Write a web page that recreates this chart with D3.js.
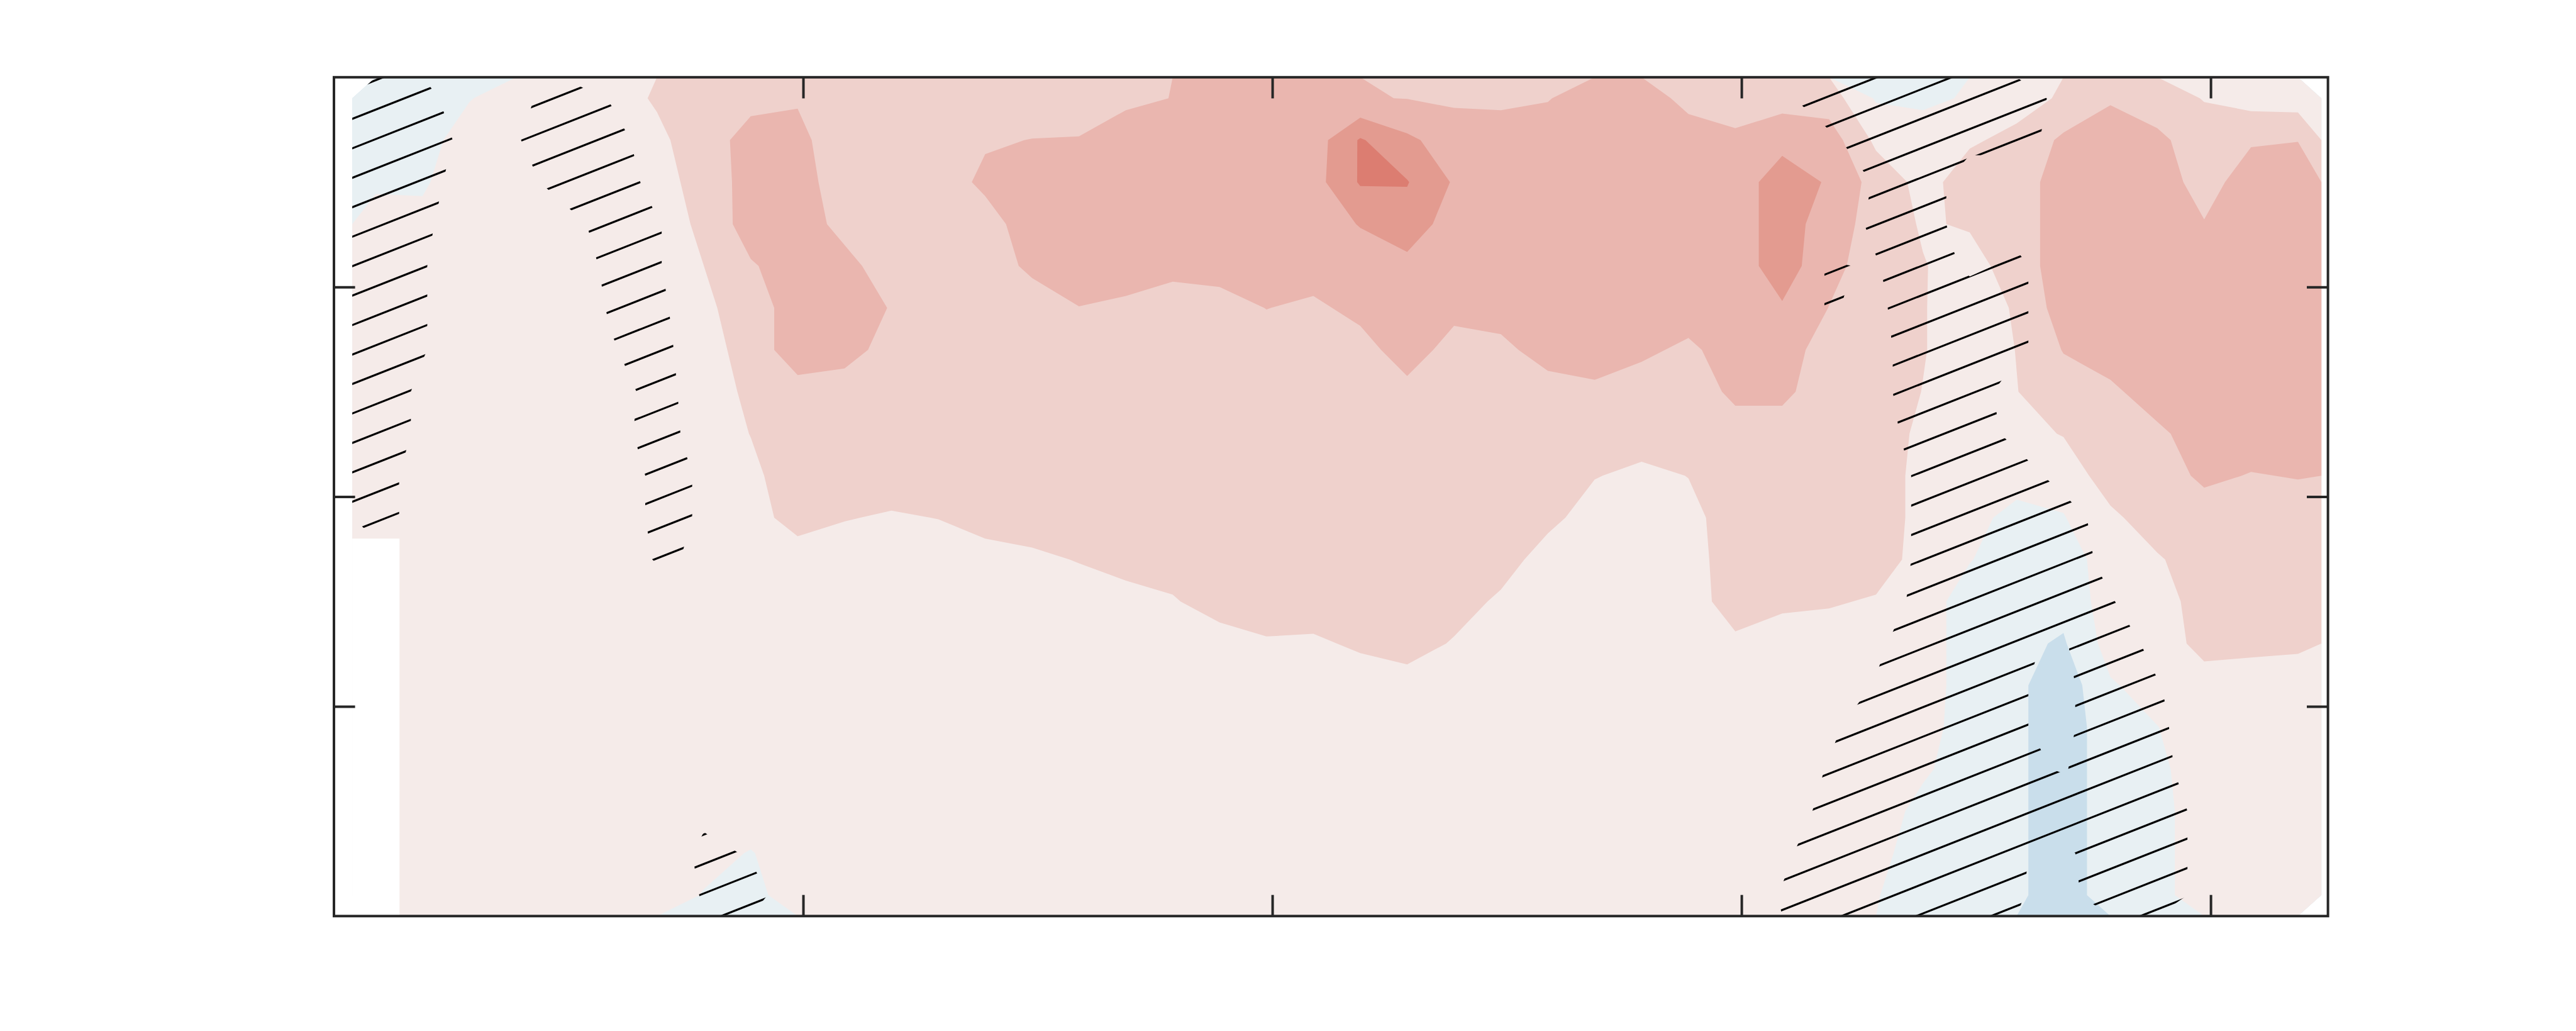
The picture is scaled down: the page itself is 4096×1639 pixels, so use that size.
<!DOCTYPE html>
<html>
<head>
<meta charset="utf-8">
<script src="https://cdn.jsdelivr.net/npm/d3@7"></script>
<style>
  html, body { margin: 0; padding: 0; background: #ffffff; }
  svg { display: block; }
</style>
</head>
<body>
<svg id="chart" width="4096" height="1639"></svg>
<script>
// ---------------- axes ----------------
const xDomain = [0, 42.5];
const yDomain = [0, 4];
const xTicks = [10, 20, 30, 40];
const yTicks = [1, 2, 3];

// ---------------- gridded field (rows: top -> bottom, 42 columns) ----------------
const gridXExtent = [0.39, 42.36];
const gridYExtent = [0, 4];
const bandThresholds = [-10, -1, 0, 1, 2, 3, 4];
const bandColors = ["#c9deeb", "#e8f0f3", "#f5ebe9", "#efd1cc", "#eab6af", "#e39b90", "#dc7d71"];
const N = NaN;

const field = [
  [-0.5,-0.5,-0.05,0.5,0.5,0.6,1.1,1.5,1.7,1.9,  1.5,1.5,1.5,1.5,1.5,1.5,1.8,2.02,2.3,2.5,  2.5,2.05,1.98,1.85,1.8,1.95,2.5,2.5,1.7,1.5,  1.6,1.5,-0.1,-0.2,0.1,0.7,1.1,1.9,1.5,0.95,  0.6,0.5],
  [-0.5,-0.4,0.5,0.5,0.5,0.5,0.8,1.5,2.4,2.3,  1.3,1.5,1.5,1.9,2.02,2.05,2.5,2.5,2.5,2.5,  2.5,4.1,3.2,2.5,2.5,2.5,2.5,2.5,2.5,2.2,  2.7,2.5,0.8,0.5,0.9,1.2,2.2,2.5,2.2,1.5,  1.9,1.98],
  [-0.2,-0.1,0.5,0.5,0.5,0.5,0.6,1.4,2.4,2.4,  1.5,1.5,1.5,2.2,2.5,2.5,2.5,2.5,2.5,2.5,  2.6,4.1,4.05,2.9,2.5,2.5,2.5,2.5,2.5,2.5,  3.5,2.9,1.6,0.7,1.4,1.5,2.5,2.5,2.5,1.6,  2.5,2.5],
  [0.5,0.2,0.5,0.5,0.5,0.5,0.5,1.2,2.5,2.5,  1.7,1.5,1.5,1.6,2.5,2.5,2.5,2.5,2.5,2.5,  2.5,3.05,3.6,2.5,2.5,2.5,2.5,2.5,2.5,2.5,  3.5,2.5,1.6,0.9,1.1,1.5,2.5,2.5,2.5,2.05,  2.5,2.5],
  [0.5,0.5,0.5,0.5,0.5,0.5,0.5,1.0,1.9,2.5,  2.3,1.5,1.5,1.5,2.2,2.5,2.5,2.3,2.4,2.5,  2.5,2.5,2.7,2.5,2.5,2.5,2.5,2.5,2.5,2.5,  3.5,2.3,1.5,1.05,0.6,1.5,2.5,2.5,2.5,2.5,  2.5,2.5],
  [0.5,0.5,0.5,0.5,0.5,0.5,0.5,0.8,1.5,2.5,  2.5,1.95,1.5,1.5,1.5,1.98,1.8,1.5,1.6,2.02,  1.8,2.3,2.5,2.3,2.5,2.5,2.5,2.5,2.5,2.5,  2.9,1.98,1.5,1.05,0.5,1.1,2.5,2.5,2.5,2.5,  2.5,2.5],
  [0.5,0.5,0.5,0.5,0.5,0.5,0.5,0.6,1.4,2.6,  2.4,1.6,1.5,1.5,1.5,1.5,1.5,1.5,1.5,1.5,  1.5,1.6,2.5,1.6,1.7,2.5,2.5,2.2,1.8,2.5,  2.5,1.5,1.5,1.05,0.5,1.02,2.05,2.5,2.5,2.5,  2.5,2.5],
  [0.4,0.5,0.5,0.5,0.5,0.5,0.5,0.5,1.2,1.6,  1.5,1.5,1.5,1.5,1.5,1.5,1.5,1.5,1.5,1.5,  1.5,1.5,1.7,1.5,1.5,1.5,1.8,1.5,1.5,2.2,  2.2,1.5,1.5,0.98,0.5,0.98,1.5,1.8,2.5,2.5,  2.5,2.5],
  [0.3,0.5,0.5,0.5,0.5,0.5,0.5,0.5,1.02,1.5,  1.5,1.5,1.5,1.5,1.5,1.5,1.5,1.5,1.5,1.5,  1.5,1.5,1.5,1.5,1.5,1.5,1.5,1.5,1.5,1.6,  1.6,1.5,1.5,0.8,0.5,0.7,1.05,1.5,1.8,2.5,  2.5,2.5],
  [0.3,0.5,0.5,0.5,0.5,0.5,0.5,0.5,0.8,1.5,  1.5,1.5,1.5,1.5,1.5,1.5,1.5,1.5,1.5,1.5,  1.5,1.5,1.5,1.5,1.5,1.5,1.05,0.75,1.02,1.5,  1.5,1.5,1.5,0.7,0.5,0.4,0.4,1.5,1.5,2.2,  1.95,2.05],
  [0.3,0.5,0.5,0.5,0.5,0.5,0.5,0.5,0.6,1.4,  1.05,0.9,1.02,1.5,1.5,1.5,1.5,1.5,1.5,1.5,  1.5,1.5,1.5,1.5,1.5,1.3,0.5,0.5,0.7,1.5,  1.5,1.5,1.5,0.7,0.3,-0.3,-0.05,0.8,1.5,1.5,  1.5,1.5],
  [N,0.5,0.5,0.5,0.5,0.5,0.5,0.5,0.5,0.5,  0.5,0.5,0.5,0.5,0.8,1.05,1.5,1.5,1.5,1.5,  1.5,1.5,1.5,1.5,1.5,0.5,0.5,0.5,0.6,1.5,  1.5,1.5,1.5,0.6,0.05,-0.6,-0.5,0.5,0.9,1.5,  1.5,1.5],
  [N,0.5,0.5,0.5,0.5,0.5,0.5,0.5,0.5,0.5,  0.5,0.5,0.5,0.5,0.5,0.5,0.5,0.9,1.5,1.5,  1.5,1.5,1.5,1.5,0.8,0.5,0.5,0.5,0.5,1.5,  1.2,1.1,0.9,0.5,-0.5,-0.6,-0.7,0.5,0.5,1.5,  1.5,1.5],
  [N,0.5,0.5,0.5,0.5,0.5,0.5,0.5,0.5,0.5,  0.5,0.5,0.5,0.5,0.5,0.5,0.5,0.5,0.5,0.9,  0.85,1.15,1.5,0.9,0.5,0.5,0.5,0.5,0.5,0.8,  0.5,0.5,0.5,0.5,-0.5,-0.8,-1.1,0.4,0.5,1.3,  1.2,1.15],
  [N,0.5,0.5,0.5,0.5,0.5,0.5,0.5,0.5,0.5,  0.5,0.5,0.5,0.5,0.5,0.5,0.5,0.5,0.5,0.5,  0.5,0.5,0.5,0.5,0.5,0.5,0.5,0.5,0.5,0.5,  0.5,0.5,0.5,0.5,-0.5,-0.8,-1.6,-0.1,0.4,0.6,  0.6,0.55],
  [N,0.5,0.5,0.5,0.5,0.5,0.5,0.5,0.5,0.5,  0.5,0.5,0.5,0.5,0.5,0.5,0.5,0.5,0.5,0.5,  0.5,0.5,0.5,0.5,0.5,0.5,0.5,0.5,0.5,0.5,  0.5,0.5,0.5,0.4,-0.5,-0.8,-1.6,-0.4,-0.02,0.5,  0.5,0.5],
  [N,0.5,0.5,0.5,0.5,0.5,0.5,0.5,0.5,0.5,  0.5,0.5,0.5,0.5,0.5,0.5,0.5,0.5,0.5,0.5,  0.5,0.5,0.5,0.5,0.5,0.5,0.5,0.5,0.5,0.5,  0.5,0.5,0.5,0.15,-0.5,-0.8,-1.6,-0.4,-0.2,0.5,  0.5,0.5],
  [N,0.5,0.5,0.5,0.5,0.5,0.5,0.5,0.5,0.5,  0.5,0.5,0.5,0.5,0.5,0.5,0.5,0.5,0.5,0.5,  0.5,0.5,0.5,0.5,0.5,0.5,0.5,0.5,0.5,0.5,  0.5,0.5,0.5,-0.3,-0.5,-0.8,-1.6,-0.4,-0.3,0.5,  0.5,0.5],
  [N,0.5,0.5,0.5,0.5,0.5,0.5,0.3,-0.05,0.5,  0.5,0.5,0.5,0.5,0.5,0.5,0.5,0.5,0.5,0.5,  0.5,0.5,0.5,0.5,0.5,0.5,0.5,0.5,0.5,0.5,  0.5,0.5,0.3,-0.5,-0.5,-0.8,-1.6,-0.4,-0.3,0.5,  0.5,0.5],
  [N,0.5,0.5,0.5,0.5,0.5,0.5,-0.05,-0.3,0.5,  0.5,0.5,0.5,0.5,0.5,0.5,0.5,0.5,0.5,0.5,  0.5,0.5,0.5,0.5,0.5,0.5,0.5,0.5,0.5,0.5,  0.5,0.5,0.05,-0.5,-0.5,-0.8,-1.6,-0.4,-0.3,0.5,  0.5,0.5]
];

// ---------------- non-significance field (hatched where >= 4.5), digits 0-9 ----------------
const hatchThreshold = 4.5;
const signif = [
  ["9703740000","0000000000","0000000000","3999992000","00"],
  ["9924980000","0000000000","0000000000","0399772000","00"],
  ["9800992000","0000000000","0000000000","0059000000","00"],
  ["9600095000","0000000000","0000000000","0069020000","00"],
  ["9500065000","0000000000","0000000000","0549360000","00"],
  ["9500056000","0000000000","0000000000","0539960000","00"],
  ["9500047000","0000000000","0000000000","0329960000","00"],
  ["9300008000","0000000000","0000000000","0029900000","00"],
  ["9300009000","0000000000","0000000000","0009920000","00"],
  ["9000006400","0000000000","0000000000","0006991000","00"],
  ["9000006400","0000000000","0000000000","0006999000","00"],
  ["0000005400","0000000000","0000000000","0006999200","00"],
  ["0000000000","0000000000","0000000000","0007999500","00"],
  ["0000000000","0000000000","0000000000","0039954920","00"],
  ["0000000000","0000000000","0000000000","0059953950","00"],
  ["0000000000","0000000000","0000000000","0399953960","00"],
  ["0000000000","0000000000","0000000000","0599964970","00"],
  ["0000000300","0000000000","0000000000","0799999992","00"],
  ["0000000640","0000000000","0000000000","3999953992","00"],
  ["0000000570","0000000000","0000000000","5999952992","00"]
].map(parts => parts.join(""));

// ---------------- drawing ----------------
const nx = 42, ny = 20;
const svg = d3.select("#chart");
const x = d3.scaleLinear().domain(xDomain).range([531, 3701.6]);
const y = d3.scaleLinear().domain(yDomain).range([1456.3, 122.8]);

const cw = (gridXExtent[1] - gridXExtent[0]) / nx;
const rh = (gridYExtent[1] - gridYExtent[0]) / ny;
const gx = u => x(gridXExtent[0] + u * cw);
const gy = v => y(gridYExtent[1] - v * rh);
const proj = d3.geoTransform({ point(u, v) { this.stream.point(gx(u), gy(v)); } });
const path = d3.geoPath(proj);

// contour input: missing cells take the nearest valid value in their row (then masked white)
const flat = [];
field.forEach(row => {
  for (let i = 0; i < nx; i++) {
    let v = row[i];
    if (v === undefined || isNaN(v)) {
      let k = i;
      while (k < nx && (row[k] === undefined || isNaN(row[k]))) k++;
      if (k >= nx) { k = i; while (k >= 0 && (row[k] === undefined || isNaN(row[k]))) k--; }
      v = k >= 0 && k < nx ? row[k] : 0.5;
    }
    flat.push(v);
  }
});

const bands = d3.contours().size([nx, ny]).thresholds(bandThresholds)(flat);
svg.append("g").selectAll("path").data(bands).join("path")
  .attr("d", path)
  .attr("fill", (d, i) => bandColors[i])
  .attr("stroke", "none");

// missing-data cells
const missing = [];
field.forEach((row, j) => row.forEach((v, i) => { if (isNaN(v)) missing.push({ i, j }); }));
svg.append("g").selectAll("rect").data(missing).join("rect")
  .attr("x", d => gx(d.i))
  .attr("y", d => gy(d.j))
  .attr("width", d => gx(d.i + 1) - gx(d.i) + 0.6)
  .attr("height", d => gy(d.j + 1) - gy(d.j) + 0.6)
  .attr("fill", "#ffffff");

// hatching of non-significant areas
const sig = [];
signif.forEach(s => { for (let i = 0; i < nx; i++) sig.push(+(s[i] || 0)); });
const hatchGeo = d3.contours().size([nx, ny]).thresholds([hatchThreshold])(sig)[0];
svg.append("defs").append("clipPath").attr("id", "hatchClip")
  .append("path").attr("d", path(hatchGeo));

const slope = 0.3943, spacing = 46.83, phase = 597.18;
const L = x(xDomain[0]), R = x(xDomain[1]);
const cMin = y(yDomain[1]) + slope * L, cMax = y(yDomain[0]) + slope * R;
const kMin = Math.floor((cMin - phase) / spacing), kMax = Math.ceil((cMax - phase) / spacing);
const hatchLines = d3.range(kMin, kMax + 1).map(k => phase + k * spacing);
svg.append("g").attr("clip-path", "url(#hatchClip)")
  .selectAll("line").data(hatchLines).join("line")
  .attr("x1", L).attr("y1", c => c - slope * L)
  .attr("x2", R).attr("y2", c => c - slope * R)
  .attr("stroke", "#000000")
  .attr("stroke-width", 3.2)
  .attr("stroke-linecap", "butt");

// frame and inward ticks
const tickLen = 33.6, axisColor = "#262626", lw = 4;
function styleAxis(g) {
  g.select(".domain").remove();
  g.selectAll(".tick line").attr("stroke", axisColor).attr("stroke-width", lw);
  g.selectAll(".tick text").remove();
}
svg.append("g").attr("transform", `translate(0,${y(yDomain[0])})`)
  .call(d3.axisBottom(x).tickValues(xTicks).tickSize(-tickLen).tickFormat("")).call(styleAxis);
svg.append("g").attr("transform", `translate(0,${y(yDomain[1])})`)
  .call(d3.axisTop(x).tickValues(xTicks).tickSize(-tickLen).tickFormat("")).call(styleAxis);
svg.append("g").attr("transform", `translate(${x(xDomain[0])},0)`)
  .call(d3.axisLeft(y).tickValues(yTicks).tickSize(-tickLen).tickFormat("")).call(styleAxis);
svg.append("g").attr("transform", `translate(${x(xDomain[1])},0)`)
  .call(d3.axisRight(y).tickValues(yTicks).tickSize(-tickLen).tickFormat("")).call(styleAxis);

svg.append("rect")
  .attr("x", x(xDomain[0])).attr("y", y(yDomain[1]))
  .attr("width", x(xDomain[1]) - x(xDomain[0]))
  .attr("height", y(yDomain[0]) - y(yDomain[1]))
  .attr("fill", "none")
  .attr("stroke", axisColor)
  .attr("stroke-width", lw);
</script>
</body>
</html>
